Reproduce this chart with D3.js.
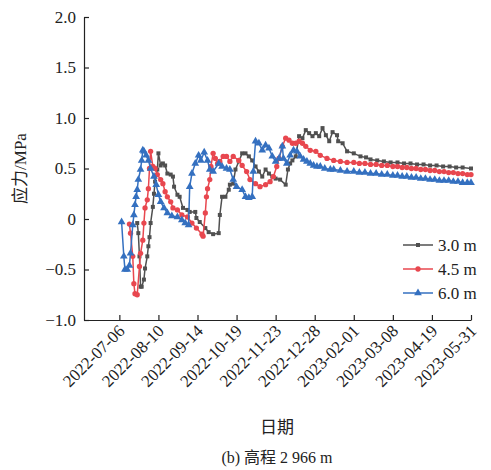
<!DOCTYPE html>
<html>
<head>
<meta charset="utf-8">
<script src="https://cdn.jsdelivr.net/npm/d3@7"></script>
<style>
    body { margin: 0; background: #fff; }
    svg text { font-family: "Liberation Serif", "Times New Roman", "DejaVu Serif", "Noto Sans CJK SC", serif; }
</style>
</head>
<body>
<div id="chart"></div>
<script>
// --------------------------------------------------
// stress vs date, elevation 2 966 m

// tick labels on the date axis (equally spaced on the chart)
var tickDates = ["2022-07-06", "2022-08-10", "2022-09-14", "2022-10-19", "2022-11-23",
    "2022-12-28", "2023-02-01", "2023-03-08", "2023-04-19", "2023-05-31"];
var axisStart = "2022-06-04";
var yTicks = [-1.0, -0.5, 0, 0.5, 1.0, 1.5, 2.0];

var seriesNames = ["3.0 m", "4.5 m", "6.0 m"];

// [days after 2022-07-06, stress MPa]
var s30 = [[16,-0.04],[17,-0.14],[18,-0.37],[19,-0.67],[20,-0.67],[22,-0.60],[23,-0.49],[25,-0.37],
    [26,-0.27],[27,-0.18],[28,-0.04],[30,0.12],[31,0.25],[32,0.37],[34,0.49],[35,0.65],[37,0.53],
    [39,0.55],[41,0.53],[43,0.45],[46,0.44],[48,0.42],[49,0.32],[52,0.24],[54,0.22],[57,0.11],
    [61,0.09],[63,0.07],[68,0.07],[69,0.01],[72,-0.03],[77,-0.09],[80,-0.13],[84,-0.15],[89,-0.14],
    [90,0.04],[92,0.22],[95,0.22],[98,0.29],[99,0.34],[102,0.35],[104,0.49],[107,0.57],[110,0.65],
    [113,0.65],[116,0.62],[119,0.58],[122,0.52],[125,0.47],[128,0.42],[131,0.49],[134,0.45],
    [137,0.42],[140,0.40],[144,0.39],[149,0.34],[151,0.49],[153,0.55],[155,0.58],[158,0.62],
    [161,0.82],[164,0.80],[167,0.88],[170,0.85],[173,0.82],[176,0.85],[179,0.82],[182,0.90],
    [185,0.83],[188,0.77],[191,0.86],[195,0.83],[196,0.77],[200,0.75],[204,0.67],[210,0.65],
    [216,0.62],[221,0.61],[225,0.59],[231,0.58],[237,0.57],[243,0.56],[250,0.56],[257,0.55],
    [264,0.55],[271,0.54],[278,0.54],[285,0.53],[292,0.53],[299,0.52],[306,0.52],[313,0.51],
    [320,0.51],[329,0.50]];

var s45 = [[9,-0.05],[10,-0.14],[12,-0.37],[13,-0.64],[14,-0.74],[16,-0.75],[18,-0.47],[19,-0.34],
    [21,-0.21],[22,-0.04],[23,0.11],[25,0.19],[26,0.30],[27,0.50],[28,0.67],[30,0.52],[32,0.50],
    [34,0.44],[37,0.39],[39,0.35],[41,0.27],[43,0.22],[46,0.17],[48,0.11],[52,0.09],[56,0.04],
    [61,0.02],[65,-0.04],[69,-0.09],[74,-0.15],[75,-0.17],[77,0.06],[78,0.22],[79,0.30],[81,0.39],
    [82,0.52],[84,0.65],[86,0.60],[88,0.55],[90,0.57],[93,0.62],[96,0.62],[99,0.57],[102,0.62],
    [107,0.58],[110,0.53],[114,0.47],[117,0.39],[122,0.35],[126,0.32],[131,0.34],[135,0.37],
    [138,0.42],[141,0.52],[143,0.60],[146,0.72],[149,0.80],[152,0.78],[155,0.75],[158,0.75],
    [161,0.77],[164,0.75],[167,0.72],[171,0.68],[176,0.67],[180,0.63],[186,0.60],[192,0.58],
    [198,0.57],[204,0.56],[210,0.56],[215,0.55],[220,0.55],[225,0.54],[230,0.54],[235,0.53],
    [240,0.53],[245,0.52],[250,0.52],[255,0.51],[260,0.51],[265,0.50],[270,0.50],[275,0.49],
    [280,0.49],[285,0.48],[290,0.48],[295,0.47],[300,0.47],[305,0.46],[310,0.46],[315,0.45],
    [320,0.45],[325,0.44],[329,0.44]];

var s60 = [[2,-0.03],[4,-0.37],[5,-0.50],[7,-0.50],[9,-0.46],[10,-0.34],[12,-0.06],[13,0.04],
    [14,0.14],[15,0.22],[16,0.29],[17,0.39],[19,0.49],[20,0.58],[21,0.68],[22,0.67],[24,0.63],
    [26,0.58],[28,0.50],[31,0.42],[33,0.34],[35,0.24],[37,0.17],[40,0.11],[43,0.06],[47,0.03],
    [52,0.02],[56,-0.01],[59,-0.04],[62,-0.06],[63,0.32],[65,0.45],[68,0.55],[71,0.63],[73,0.58],
    [76,0.66],[79,0.58],[81,0.49],[84,0.47],[89,0.55],[92,0.52],[96,0.50],[99,0.49],[102,0.39],
    [105,0.32],[110,0.29],[113,0.22],[116,0.21],[119,0.22],[120,0.47],[122,0.77],[125,0.75],
    [128,0.68],[131,0.73],[134,0.70],[137,0.62],[140,0.57],[143,0.60],[146,0.72],[147,0.60],
    [150,0.55],[153,0.63],[156,0.68],[159,0.67],[162,0.62],[165,0.59],[168,0.57],[171,0.55],
    [174,0.53],[177,0.52],[180,0.52],[184,0.50],[189,0.49],[192,0.49],[198,0.48],[204,0.47],
    [210,0.47],[215,0.46],[220,0.46],[225,0.45],[230,0.45],[235,0.44],[240,0.44],[245,0.43],
    [250,0.43],[255,0.42],[260,0.42],[265,0.41],[270,0.41],[275,0.40],[280,0.40],[285,0.39],
    [290,0.39],[295,0.38],[300,0.38],[305,0.38],[310,0.37],[315,0.37],[320,0.36],[325,0.36],
    [329,0.36]];

var colors = ["#505050", "#e8474f", "#3470c0"];
var symbols = [d3.symbolSquare, d3.symbolCircle, d3.symbolTriangle];
var symSize = [16, 22, 26];

var margin = { left: 84, right: 20, top: 17, bottom: 150 };
var width = 491 - margin.left - margin.right;
var height = 470 - margin.top - margin.bottom;

var svg = d3.select("#chart")
    .append("svg")
    .attr("width", 491)
    .attr("height", 470);

var g = svg.append("g")
    .attr("transform", "translate(" + margin.left + ", " + margin.top + ")");

var parse = d3.timeParse("%Y-%m-%d");
var base = parse(tickDates[0]);
function toDate(day) {
    return new Date(base.getTime() + day * 864e5);
}

// ticks are evenly spaced although the dates are not -> piecewise time scale
var lead = 0.905;
var step = width / (tickDates.length - 1 + lead);
var x = d3.scaleTime()
    .domain([parse(axisStart)].concat(tickDates.map(parse)))
    .range([0].concat(tickDates.map(function(d, i) { return (i + lead) * step; })));

var y = d3.scaleLinear()
    .domain([-1, 2])
    .range([height, 0]);

// x axis
var xAxisCall = d3.axisBottom(x)
    .tickValues(tickDates.map(parse))
    .tickSizeInner(-5)
    .tickSizeOuter(0)
    .tickFormat(d3.timeFormat("%Y-%m-%d"));
var xg = g.append("g")
    .attr("class", "x-axis")
    .attr("transform", "translate(0, " + height + ")")
    .call(xAxisCall);
xg.selectAll("text")
    .attr("y", 0)
    .attr("x", 0)
    .attr("dy", 0)
    .attr("text-anchor", "end")
    .attr("font-size", "17px")
    .attr("fill", "#222")
    .attr("transform", "translate(6, 12) rotate(-45)");

// y axis
var yAxisCall = d3.axisLeft(y)
    .tickValues(yTicks)
    .tickSizeInner(-5)
    .tickSizeOuter(0)
    .tickFormat(function(d) {
        if (d === 0) return "0";
        return d3.format(".1f")(d).replace("-", "\u2212");
    });
var yg = g.append("g")
    .attr("class", "y-axis")
    .call(yAxisCall);
yg.selectAll("text")
    .attr("x", -8)
    .attr("font-size", "17px")
    .attr("fill", "#222");

g.selectAll(".domain, .tick line")
    .attr("stroke", "#222")
    .attr("stroke-width", 1.2);

// labels
g.append("text")
    .attr("x", -(height / 2))
    .attr("y", -58)
    .attr("font-size", "17px")
    .attr("fill", "#222")
    .attr("text-anchor", "middle")
    .attr("transform", "rotate(-90)")
    .text("应力/MPa");

g.append("text")
    .attr("x", 193)
    .attr("y", 416)
    .attr("font-size", "17px")
    .attr("fill", "#222")
    .attr("text-anchor", "middle")
    .text("日期");

g.append("text")
    .attr("x", 193)
    .attr("y", 446)
    .attr("font-size", "16px")
    .attr("fill", "#222")
    .attr("text-anchor", "middle")
    .text("(b) 高程 2 966 m");

// series
var line = d3.line()
    .x(function(d) { return x(toDate(d[0])); })
    .y(function(d) { return y(d[1]); });

var allSeries = [s30, s45, s60];
allSeries.forEach(function(s, i) {
    g.append("path")
        .datum(s)
        .attr("fill", "none")
        .attr("stroke", colors[i])
        .attr("stroke-width", 1.5)
        .attr("d", line);

    g.selectAll(".m" + i)
        .data(s)
        .enter()
        .append("path")
        .attr("class", "m" + i)
        .attr("d", d3.symbol().type(symbols[i]).size(symSize[i]))
        .attr("transform", function(d) {
            return "translate(" + x(toDate(d[0])) + "," + y(d[1]) + ")";
        })
        .attr("fill", colors[i]);
});

// legend
var legend = g.append("g")
    .attr("transform", "translate(319, 228)");
seriesNames.forEach(function(name, i) {
    var row = legend.append("g")
        .attr("transform", "translate(0, " + (i * 24) + ")");
    row.append("line")
        .attr("x1", 0).attr("x2", 30)
        .attr("stroke", colors[i])
        .attr("stroke-width", 1.5);
    row.append("path")
        .attr("d", d3.symbol().type(symbols[i]).size(symSize[i]))
        .attr("transform", "translate(15, 0)")
        .attr("fill", colors[i]);
    row.append("text")
        .attr("x", 35)
        .attr("y", 6)
        .attr("font-size", "17px")
        .attr("fill", "#222")
        .text(name);
});
</script>
</body>
</html>
